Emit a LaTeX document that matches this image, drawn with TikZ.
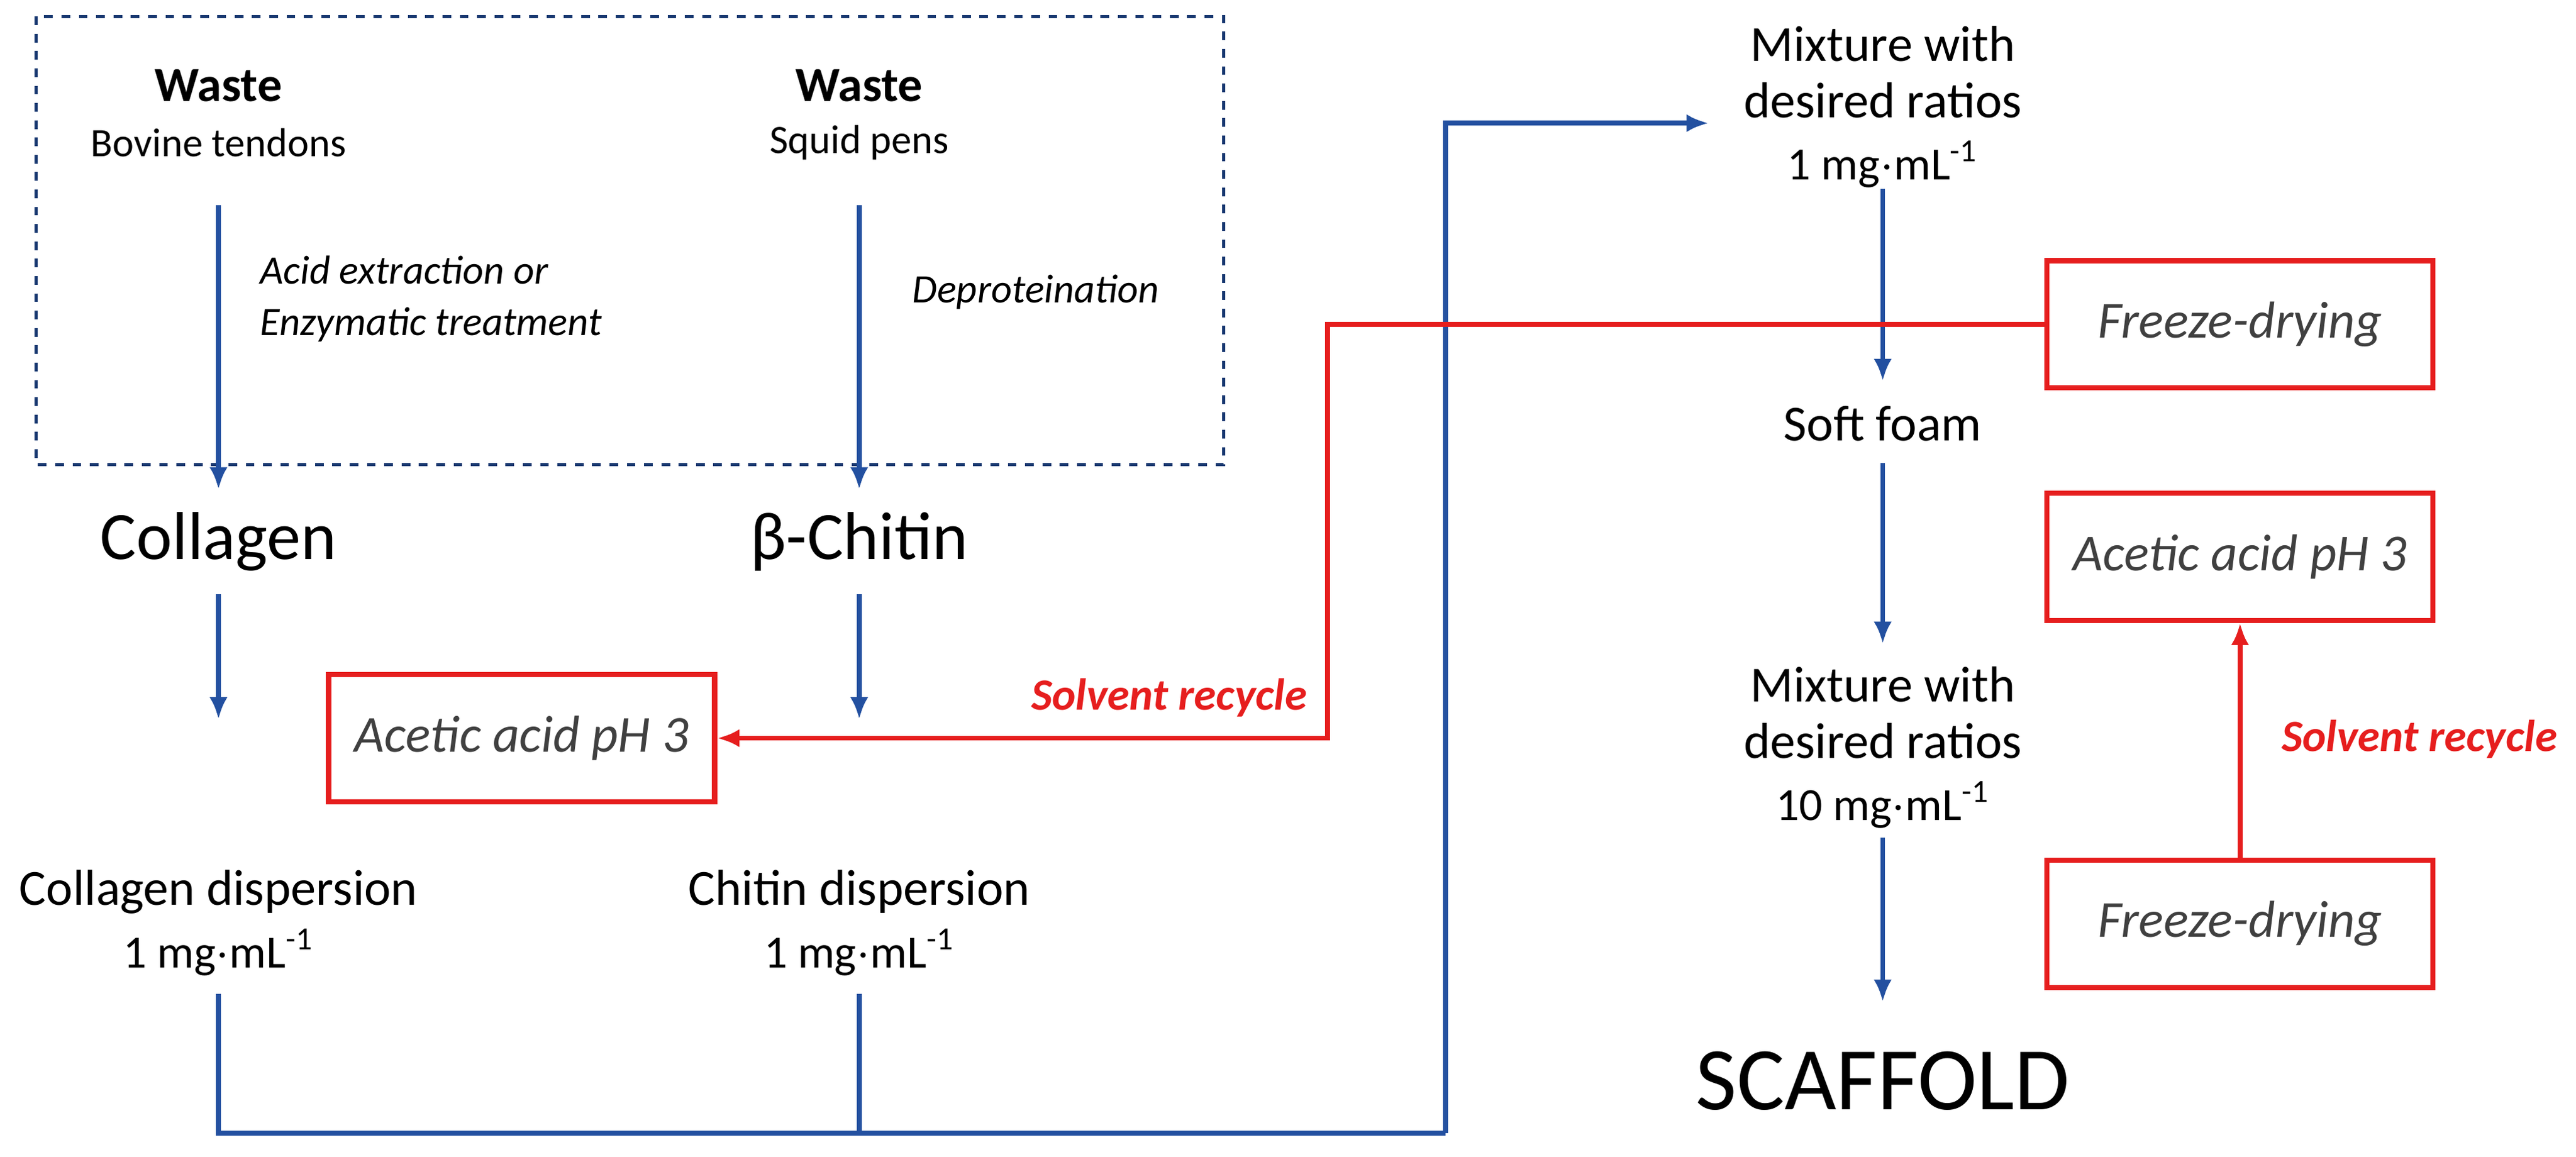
\documentclass[tikz,border=0pt]{standalone}
\usepackage{fontspec}
\setmainfont{Carlito}
\usepackage{tikz}
\usetikzlibrary{arrows.meta}
\usetikzlibrary{shapes}
\definecolor{flowblue}{RGB}{35,80,160}
\definecolor{flowred}{RGB}{230,30,30}
\begin{document}
\begin{tikzpicture}[x=0.02cm, y=-0.02cm,
  txt/.style={inner sep=0pt, font=\fontsize{17.5}{19.5}\selectfont, align=center},
  small/.style={inner sep=0pt, font=\fontsize{14}{17}\selectfont, align=center},
  big/.style={inner sep=1pt, font=\fontsize{23.5}{27}\selectfont},
  redbox/.style={draw=flowred, line width=1.8pt, minimum width=4.7cm, minimum height=1.55cm, font=\fontsize{18}{21}\selectfont\itshape, text=black!75}]
\tikzset{edge/.style = {flowblue, line width=1.7pt, -{Latex[width=2.2mm, length=2.7mm]}},
         redge/.style = {flowred, line width=1.7pt, -{Latex[width=2.2mm, length=2.7mm]}},
         line/.style = {flowblue, line width=1.7pt}}
\useasboundingbox (0,0) rectangle (1568,704.5);
\draw[flowblue!70!black, line width=1.1pt, dashed] (22,10) rectangle (745,283);
% left column
\node[small, font=\fontsize{17}{19}\selectfont\bfseries] (w1) at (133,52) {Waste};
\node[small] (bt) at (133,87) {Bovine tendons};
\node[big] (col) at (133,330) {Collagen};
\node[txt] (cd) at (133,543) {Collagen dispersion};
\node[small, font=\fontsize{16}{18}\selectfont] (cc) at (133,580) {1 mg$\cdot$mL\textsuperscript{-1}};
\node[small, font=\fontsize{14}{18}\selectfont\itshape, align=left, anchor=west] (ae) at (158,182) {Acid extraction or\\Enzymatic treatment};
% middle column
\node[small, font=\fontsize{17}{19}\selectfont\bfseries] (w2) at (523,52) {Waste};
\node[small] (sp) at (523,87) {Squid pens};
\node[big] (chi) at (523,330) {β-Chitin};
\node[txt] (chd) at (523,543) {Chitin dispersion};
\node[small, font=\fontsize{16}{18}\selectfont] (chc) at (523,580) {1 mg$\cdot$mL\textsuperscript{-1}};
\node[small, font=\fontsize{14}{17}\selectfont\itshape, anchor=west] (dp) at (555,178) {Deproteination};
\node[redbox] (aa1) at (317.5,449.5) {Acetic acid pH 3};
% right column
\node[txt] (m1) at (1146,44) {Mixture with\\desired ratios};
\node[small, font=\fontsize{16}{18}\selectfont] (m1c) at (1146,100) {1 mg$\cdot$mL\textsuperscript{-1}};
\node[txt] (sf) at (1146,258) {Soft foam};
\node[txt] (m2) at (1146,434) {Mixture with\\desired ratios};
\node[small, font=\fontsize{16}{18}\selectfont] (m2c) at (1146,490) {10 mg$\cdot$mL\textsuperscript{-1}};
\node[big, font=\fontsize{31}{34}\selectfont] (sc) at (1146,658) {SCAFFOLD};
\node[redbox] (fd1) at (1363.5,197.5) {Freeze-drying};
\node[redbox] (aa2) at (1363.5,339) {Acetic acid pH 3};
\node[redbox] (fd2) at (1363.5,562.5) {Freeze-drying};
\node[small, font=\fontsize{15.5}{18}\selectfont\bfseries\itshape, text=flowred, anchor=east] (sr1) at (796,425) {Solvent recycle};
\node[small, font=\fontsize{15.5}{18}\selectfont\bfseries\itshape, text=flowred, anchor=east] (sr2) at (1557,450) {Solvent recycle};
\coordinate (c1) at (133,690);
\coordinate (c2) at (523,690);
\coordinate (c3) at (880,690);
\coordinate (c4) at (880,75);
\coordinate (r1) at (808,197.5);
\coordinate (r2) at (808,449.5);
\draw[edge] (133,125) -- (133,298);
\draw[edge] (523,125) -- (523,298);
\draw[edge] (133,362) -- (133,438);
\draw[edge] (523,362) -- (523,438);
\draw[line] (133,605) -- (c1) -- (c3);
\draw[line] (523,605) -- (c2);
\draw[edge] (c3) -- (c4) -- (1040,75);
\draw[edge] (1146,115) -- (1146,232);
\draw[edge] (1146,282) -- (1146,392);
\draw[edge] (1146,510) -- (1146,610);
\draw[redge] (fd1.west) -- (r1) -- (r2) -- (aa1.east);
\draw[redge] (fd2.north) -- (aa2.south);
\end{tikzpicture}
\end{document}
